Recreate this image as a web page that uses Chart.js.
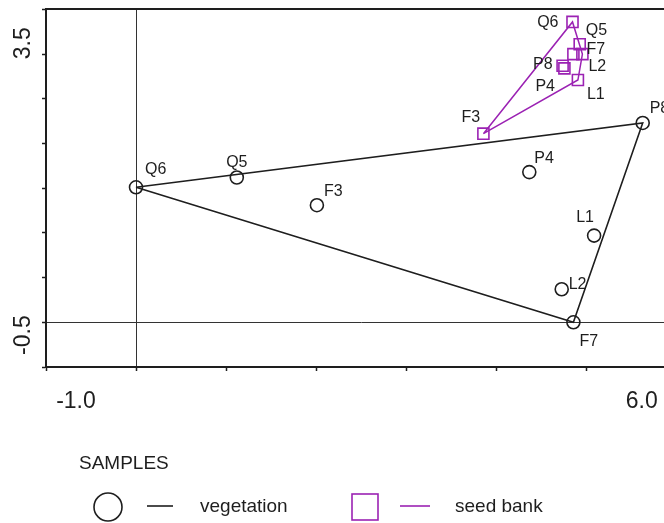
<!DOCTYPE html>
<html>
<head>
<meta charset="utf-8">
<script src="https://cdn.jsdelivr.net/npm/chart.js@4.4.1/dist/chart.umd.min.js"></script>
<style>
  html, body { margin: 0; padding: 0; background: #fff; overflow: hidden; }
  #wrap { width: 664px; height: 523px; overflow: hidden; }
</style>
</head>
<body>
<div id="wrap"><canvas id="ordination" width="690" height="523"></canvas></div>
<script>
// samples and their scores on the two axes
var samples = ['Q6', 'Q5', 'F3', 'P4', 'P8', 'L1', 'L2', 'F7'];
var vegetationX = [0.00, 1.12, 2.01, 4.37, 5.63, 5.09, 4.73, 4.86];
var vegetationY = [1.51, 1.62, 1.31, 1.68, 2.23, 0.97, 0.37, 0.00];
var seedBankX = [4.85, 4.93, 3.86, 4.76, 4.74, 4.91, 4.86, 4.96];
var seedBankY = [3.36, 3.11, 2.11, 2.84, 2.87, 2.71, 3.00, 3.00];

// envelopes joining the outer samples of each group
var vegetationHull = ['Q6', 'P8', 'F7', 'Q6'];
var seedBankHull = ['F3', 'Q6', 'F7', 'L1', 'F3'];

// axis range and the labels CanoDraw prints at its ends
var xRange = [-1, 6];
var yRange = [-0.5, 3.5];
var xRangeLabels = ['-1.0', '6.0'];
var yRangeLabels = ['-0.5', '3.5'];

// ---- styling ----
var INK = '#1e1e1e';
var PURPLE = '#9b22b3';
var FONT = '"Liberation Sans", Arial, Helvetica, sans-serif';
var xLabelAt = [-0.667, 5.62];   // where the range labels sit on x
var yLabelAt = [0.078, 3.30];    // where the range labels start on y

// label offsets (px) next to each point: dx, dy, align
var labelPlacement = {
  'vegetation': {
    Q6: [9, -18, 'left'], Q5: [0, -15, 'center'], F3: [7, -14, 'left'], P4: [5, -14, 'left'],
    P8: [7, -14, 'left'], L1: [-9, -18, 'center'], L2: [7, -5, 'left'], F7: [6, 19, 'left']
  },
  'seed bank': {
    Q6: [-14, 1, 'right'], Q5: [6, -14, 'left'], F3: [-22, -16, 'left'], P4: [-29, 18, 'left'],
    P8: [-10, -1, 'right'], L1: [9, 15, 'left'], L2: [15, 12, 'left'], F7: [4, -5, 'left']
  }
};

function toPoints(xs, ys) {
  return xs.map(function (x, i) { return { x: x, y: ys[i] }; });
}

function hullPoints(names, xs, ys) {
  return names.map(function (n) {
    var i = samples.indexOf(n);
    return { x: xs[i], y: ys[i] };
  });
}

function zeroLine(ctx) {
  return ctx.tick && Math.abs(ctx.tick.value) < 1e-6 ? '#333' : 'rgba(0,0,0,0)';
}

// fixed axis sizes, and no extra room asked for the end labels
function fixSize(w, h) {
  return function (s) {
    if (w !== null) s.width = w;
    if (h !== null) s.height = h;
    s.paddingTop = 0; s.paddingBottom = 0;
    s.paddingLeft = 0; s.paddingRight = 0;
  };
}

// sample names beside the symbols
var pointLabels = {
  id: 'pointLabels',
  afterDatasetsDraw: function (chart) {
    var ctx = chart.ctx;
    ctx.save();
    ctx.font = '16px ' + FONT;
    ctx.fillStyle = INK;
    ctx.textBaseline = 'middle';
    chart.data.datasets.forEach(function (ds, i) {
      var place = labelPlacement[ds.label];
      if (!place || ds.showLine) return;
      chart.getDatasetMeta(i).data.forEach(function (pt, j) {
        var p = place[samples[j]];
        ctx.textAlign = p[2];
        ctx.fillText(samples[j], pt.x + p[0], pt.y + p[1]);
      });
    });
    ctx.restore();
  }
};

// "SAMPLES" key: symbol, line and name for each group
var samplesKey = {
  id: 'samplesKey',
  afterDraw: function (chart) {
    var ctx = chart.ctx;
    var veg = chart.data.datasets[0];
    var seed = chart.data.datasets[1];
    ctx.save();
    ctx.font = '19px ' + FONT;
    ctx.fillStyle = INK;
    ctx.textBaseline = 'middle';
    ctx.textAlign = 'left';
    ctx.fillText('SAMPLES', 79, 464);

    ctx.lineWidth = 1.6;
    ctx.strokeStyle = veg.borderColor;
    ctx.beginPath();
    ctx.arc(108, 507, 14, 0, Math.PI * 2);
    ctx.stroke();
    ctx.beginPath();
    ctx.moveTo(147, 506);
    ctx.lineTo(173, 506);
    ctx.stroke();
    ctx.fillText(veg.label, 200, 507);

    ctx.strokeStyle = seed.borderColor;
    ctx.strokeRect(352, 494, 26, 26);
    ctx.beginPath();
    ctx.moveTo(400, 506);
    ctx.lineTo(430, 506);
    ctx.stroke();
    ctx.fillText(seed.label, 455, 507);
    ctx.restore();
  }
};

var ctx = document.getElementById('ordination').getContext('2d');

var chart = new Chart(ctx, {
  type: 'scatter',
  data: {
    datasets: [{
      label: 'vegetation',
      data: toPoints(vegetationX, vegetationY),
      pointStyle: 'circle',
      pointRadius: 6.5,
      borderColor: INK,
      backgroundColor: 'rgba(0,0,0,0)',
      borderWidth: 1.6
    }, {
      label: 'seed bank',
      data: toPoints(seedBankX, seedBankY),
      pointStyle: 'rect',
      pointRadius: 7.8,
      borderColor: PURPLE,
      backgroundColor: 'rgba(0,0,0,0)',
      borderWidth: 1.6
    }, {
      label: 'vegetation',
      data: hullPoints(vegetationHull, vegetationX, vegetationY),
      showLine: true,
      pointRadius: 0,
      borderColor: INK,
      borderWidth: 1.6,
      tension: 0
    }, {
      label: 'seed bank',
      data: hullPoints(seedBankHull, seedBankX, seedBankY),
      showLine: true,
      pointRadius: 0,
      borderColor: PURPLE,
      borderWidth: 1.5,
      tension: 0
    }]
  },
  options: {
    responsive: false,
    animation: false,
    events: [],
    layout: { padding: { top: 7, right: 14, bottom: 102, left: 0 } },
    plugins: {
      legend: { display: false },
      tooltip: { enabled: false }
    },
    scales: {
      x: {
        type: 'linear', position: 'bottom', weight: 0,
        min: xRange[0], max: xRange[1],
        ticks: { display: false, stepSize: 1 },
        grid: { color: zeroLine, lineWidth: 1, drawTicks: true, tickLength: 4, tickColor: INK, tickWidth: 1.5 },
        border: { display: true, color: INK, width: 2 },
        afterFit: fixSize(null, 4)
      },
      xEnds: {
        type: 'linear', position: 'bottom', weight: 1,
        min: xRange[0], max: xRange[1],
        afterBuildTicks: function (s) { s.ticks = xLabelAt.map(function (v) { return { value: v }; }); },
        ticks: {
          autoSkip: false, minRotation: 0, maxRotation: 0, padding: 17, color: INK,
          font: { size: 23, family: FONT },
          callback: function (v, i) { return xRangeLabels[i]; }
        },
        grid: { display: false, drawTicks: false },
        border: { display: false },
        afterFit: fixSize(null, 50)
      },
      xTop: {
        type: 'linear', position: 'top',
        min: xRange[0], max: xRange[1],
        ticks: { display: false },
        grid: { display: false, drawTicks: false },
        border: { display: true, color: INK, width: 2 },
        afterFit: fixSize(null, 0)
      },
      y: {
        type: 'linear', position: 'left', weight: 0,
        min: yRange[0], max: yRange[1],
        ticks: { display: false, stepSize: 0.5 },
        grid: { color: zeroLine, lineWidth: 1, drawTicks: true, tickLength: 4, tickColor: INK, tickWidth: 1.5 },
        border: { display: true, color: INK, width: 2 },
        afterFit: fixSize(4, null)
      },
      yEnds: {
        type: 'linear', position: 'left', weight: 1,
        min: yRange[0], max: yRange[1],
        afterBuildTicks: function (s) { s.ticks = yLabelAt.map(function (v) { return { value: v }; }); },
        ticks: {
          autoSkip: false, minRotation: 90, maxRotation: 90, padding: 18, color: INK,
          font: { size: 23, family: FONT },
          callback: function (v, i) { return yRangeLabels[i]; }
        },
        grid: { display: false, drawTicks: false },
        border: { display: false },
        afterFit: fixSize(42, null)
      }
    }
  },
  plugins: [pointLabels, samplesKey]
});
</script>
</body>
</html>
